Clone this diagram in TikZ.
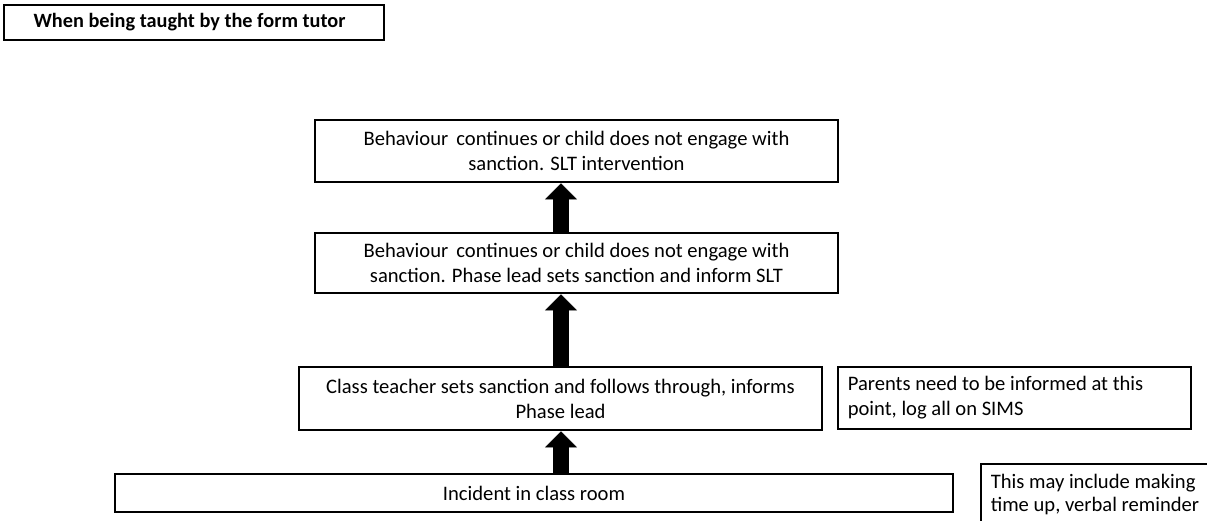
\documentclass[tikz,border=0pt]{standalone}
\usepackage{fontspec}
\setmainfont{Carlito}
\usetikzlibrary{arrows.meta}
\begin{document}
\begin{tikzpicture}[x=1pt,y=-1pt,
  txt/.style={font=\fontsize{20.6}{25}\selectfont},
  box/.style={draw, line width=2.6pt, inner sep=0pt, align=center, txt},
  note/.style={draw, line width=1.6pt, inner xsep=10pt, inner ysep=0pt, align=flush left, anchor=north west, txt},
  uparrow/.style={line width=16pt, -{Triangle[length=16pt,width=32pt,line width=0.5pt]}}]
\useasboundingbox (0,0) rectangle (1207,520);
\clip (0,0) rectangle (1207,520);
\node[box, minimum width=380pt, minimum height=35pt, font=\fontsize{20.3}{25}\selectfont\bfseries] (title) at (194,22.5) {When being taught by the form tutor\hspace*{9pt}};
\node[box, minimum width=523pt, minimum height=62pt] (t4) at (576.5,151) {Behaviour\, continues or child does not engage with\\sanction. SLT intervention};
\node[box, minimum width=523pt, minimum height=60pt] (t3) at (576.5,263) {Behaviour\, continues or child does not engage with\\sanction. Phase lead sets sanction and inform SLT};
\node[box, minimum width=523pt, minimum height=63pt] (t2) at (560.5,398.5) {Class teacher sets sanction and follows through, informs\\Phase lead};
\node[box, minimum width=838pt, minimum height=38pt] (t1) at (534,493) {Incident in class room};
\node[note, text width=333pt, minimum height=62pt] (n1) at (837,366) {Parents need to be informed at this\\point, log all on SIMS};
\node[note, text width=240pt, inner ysep=10.5pt] (n2) at (980,463) {This may include making\\[-2pt]time up, verbal reminder};
\coordinate (ax) at (561,0);
\draw[uparrow] (t1.north -| ax) -- (t2.south -| ax);
\draw[uparrow] (t2.north -| ax) -- (t3.south -| ax);
\draw[uparrow] (t3.north -| ax) -- (t4.south -| ax);
\end{tikzpicture}
\end{document}
